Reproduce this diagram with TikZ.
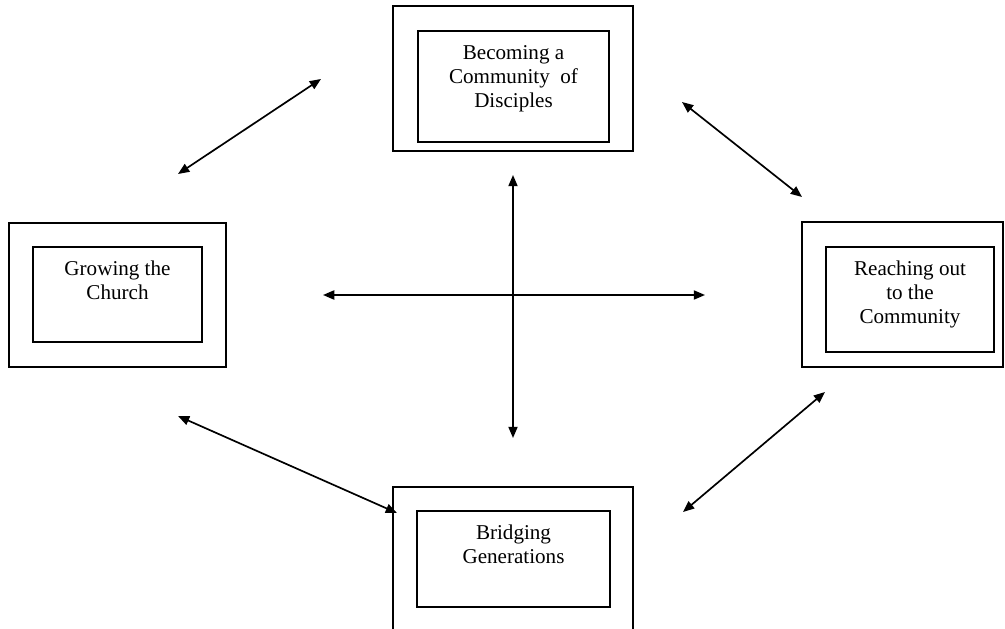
\documentclass[tikz,border=0pt]{standalone}
\usepackage{fontspec}
\setmainfont{Liberation Serif}
\usetikzlibrary{arrows.meta}

\begin{document}
\begin{tikzpicture}[x=0.025cm,y=-0.025cm,
        box/.style={draw,line width=1.3pt,inner sep=0pt},
        boxtext/.style={anchor=north,align=center,inner sep=2pt,font=\fontsize{15}{17.3}\selectfont},
        link/.style={{Triangle[length=8pt,width=6.5pt]}-{Triangle[length=8pt,width=6.5pt]},line width=1.2pt}]
        \clip (0,0) rectangle (1005,629);
        % the four boxes
        \draw (513,78.5)  node[box,minimum width=6cm,minimum height=3.625cm] (disc) {};
        \draw (513.5,86.5) node[box,minimum width=4.775cm,minimum height=2.775cm] (discin) {};
        \draw (117.5,295) node[box,minimum width=5.425cm,minimum height=3.6cm] (grow) {};
        \draw (117.5,294.5) node[box,minimum width=4.225cm,minimum height=2.375cm] (growin) {};
        \draw (902.5,294.5) node[box,minimum width=5.025cm,minimum height=3.625cm] (reach) {};
        \draw (910,299.5) node[box,minimum width=4.2cm,minimum height=2.625cm] (reachin) {};
        \draw (513,559.5) node[box,minimum width=6cm,minimum height=3.625cm] (bridge) {};
        \draw (513.5,559) node[box,minimum width=4.825cm,minimum height=2.4cm] (bridgein) {};
        \node[boxtext] (disct) at ([yshift=-8.5pt]discin.north) {Becoming a\\Community~ of\\Disciples};
        \node[boxtext] (growt) at ([yshift=-8pt]growin.north) {Growing the\\Church};
        \node[boxtext] (reacht) at ([yshift=-8pt]reachin.north) {Reaching out\\to the\\Community};
        \node[boxtext] (bridget) at ([yshift=-8pt]bridgein.north) {Bridging\\Generations};
        % arrow ends
        \coordinate (p1) at (178,174);
        \coordinate (p2) at (321,79);
        \coordinate (p3) at (682,102);
        \coordinate (p4) at (802,197);
        \coordinate (p5) at (323,295);
        \coordinate (p6) at (705,295);
        \coordinate (p7) at (513,175);
        \coordinate (p8) at (513,438);
        \coordinate (p9) at (178,416);
        \coordinate (p10) at (397,513);
        \coordinate (p11) at (683,512);
        \coordinate (p12) at (825,392);
        \draw[link] (p1) -- (p2);
        \draw[link] (p3) -- (p4);
        \draw[link] (p5) -- (p6);
        \draw[link] (p7) -- (p8);
        \draw[link] (p9) -- (p10);
        \draw[link] (p11) -- (p12);
\end{tikzpicture}
\end{document}
